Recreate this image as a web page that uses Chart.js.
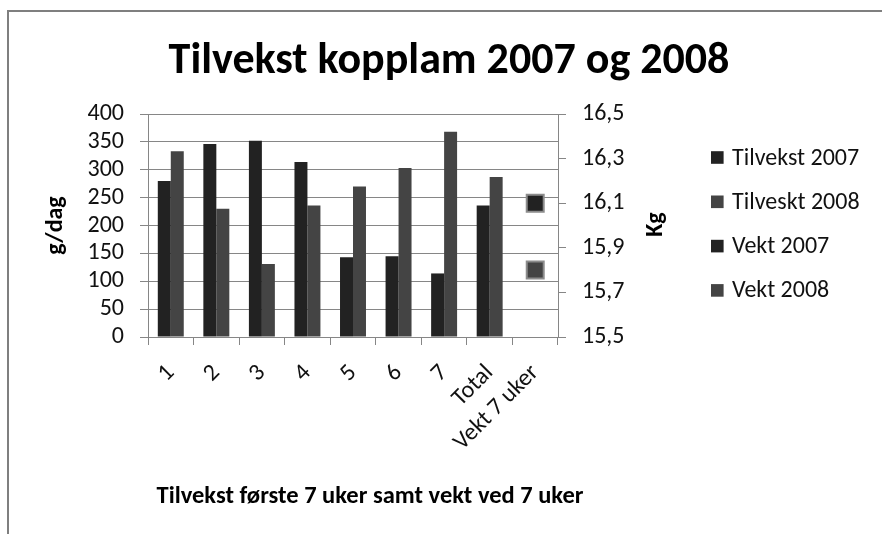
<!DOCTYPE html>
<html><head><meta charset="utf-8">
<script src="https://cdn.jsdelivr.net/npm/chart.js@4.4.1/dist/chart.umd.min.js"></script>
<style>
html,body{margin:0;padding:0;background:#fff;}
#wrap{position:relative;width:882px;height:534px;overflow:hidden;background:#fff;}
#frame{position:absolute;left:7px;top:10px;width:900px;height:600px;border:2.5px solid #7f7f7f;box-sizing:border-box;}
canvas{position:absolute;left:0;top:0;}
</style></head><body>
<div id="wrap"><div id="frame"></div><canvas id="c" width="882" height="534"></canvas></div>
<script>
// ---- data ----
const categories = ['1', '2', '3', '4', '5', '6', '7', 'Total', 'Vekt 7 uker'];
const tilvekst2007 = [280, 346, 352, 314, 143, 145, 114, 236, null];
const tilvekst2008 = [333, 230, 131, 236, 270, 303, 368, 287, null];
const vekt2007 = [null, null, null, null, null, null, null, null, 16.1];
const vekt2008 = [null, null, null, null, null, null, null, null, 15.8];
const seriesNames = ['Tilvekst 2007', 'Tilveskt 2008', 'Vekt 2007', 'Vekt 2008'];
const seriesColors = ['#222222', '#444444', '#222222', '#444444'];
const leftAxisRange = [0, 400, 50];
const rightAxisRange = [15.5, 16.5, 0.2];
const chartTitle = 'Tilvekst kopplam 2007 og 2008';
const xAxisTitle = 'Tilvekst første 7 uker samt vekt ved 7 uker';
const leftAxisTitle = 'g/dag';
const rightAxisTitle = 'Kg';

const FONT = 'Carlito, Lato, sans-serif';
Chart.defaults.font.family = FONT;
Chart.defaults.color = '#111';
const GRID = '#868686';

const extras = {
  id: 'extras',
  afterDraw(chart) {
    const ctx = chart.ctx, a = chart.chartArea;
    ctx.save();
    ctx.fillStyle = '#000';
    ctx.font = 'bold 24px ' + FONT;
    ctx.textAlign = 'center';
    ctx.textBaseline = 'middle';
    ctx.save();
    ctx.translate(a.left - 92, (a.top + a.bottom) / 2);
    ctx.rotate(-Math.PI / 2);
    ctx.fillText(leftAxisTitle, 0, 0);
    ctx.restore();
    ctx.save();
    ctx.translate(a.right + 98, (a.top + a.bottom) / 2 - 1);
    ctx.rotate(-Math.PI / 2);
    ctx.fillText(rightAxisTitle, 0, 0);
    ctx.restore();
    ctx.font = 'bold 24.5px ' + FONT;
    ctx.fillText(xAxisTitle, (a.left + a.right) / 2 + 17, a.bottom + 160);
    // legend
    ctx.font = '24px ' + FONT;
    ctx.textAlign = 'left';
    const bx = a.right + 153, tx = a.right + 174;
    chart.data.datasets.forEach((ds, i) => {
      const cy = a.top + 43.5 + i * 44.3;
      ctx.fillStyle = ds.backgroundColor;
      ctx.fillRect(bx, cy - 6.3, 12.6, 12.6);
      ctx.fillStyle = '#111';
      ctx.fillText(ds.label, tx, cy + 1);
    });
    ctx.restore();
  }
};

new Chart(document.getElementById('c'), {
  type: 'bar',
  data: {
    labels: categories,
    datasets: [
      { label: seriesNames[0], data: tilvekst2007, backgroundColor: seriesColors[0], borderWidth: 0, yAxisID: 'y', categoryPercentage: 0.57, barPercentage: 1.0 },
      { label: seriesNames[1], data: tilvekst2008, backgroundColor: seriesColors[1], borderWidth: 0, yAxisID: 'y', categoryPercentage: 0.57, barPercentage: 1.0 },
      { type: 'line', label: seriesNames[2], data: vekt2007, yAxisID: 'y2', showLine: false, pointStyle: 'rect', pointRadius: 12, pointHoverRadius: 12,
        backgroundColor: seriesColors[2], borderColor: seriesColors[2], pointBackgroundColor: seriesColors[2], pointBorderColor: '#8c8c8c', pointBorderWidth: 2, borderWidth: 0 },
      { type: 'line', label: seriesNames[3], data: vekt2008, yAxisID: 'y2', showLine: false, pointStyle: 'rect', pointRadius: 12, pointHoverRadius: 12,
        backgroundColor: seriesColors[3], borderColor: seriesColors[3], pointBackgroundColor: seriesColors[3], pointBorderColor: '#8c8c8c', pointBorderWidth: 2, borderWidth: 0 }
    ]
  },
  options: {
    responsive: false,
    animation: false,
    events: [],
    layout: { padding: { left: 20, right: 4, top: 0, bottom: 0 } },
    plugins: {
      title: { display: true, text: chartTitle, color: '#000', font: { size: 44, weight: 'bold', family: FONT }, padding: { top: 35.6, bottom: 25.6 } },
      legend: { display: false },
      tooltip: { enabled: false }
    },
    scales: {
      x: {
        offset: true,
        grid: { display: true, offset: true, drawOnChartArea: false, drawTicks: true, tickLength: 8, color: GRID },
        border: { display: true, color: GRID, width: 1 },
        ticks: { autoSkip: false, maxRotation: 45, minRotation: 45, padding: 14, color: '#111', font: { size: 24 } },
        afterFit(s) { s.height = 197; }
      },
      y: {
        position: 'left', min: leftAxisRange[0], max: leftAxisRange[1],
        ticks: { autoSkip: false, stepSize: leftAxisRange[2], padding: 16, color: '#111', font: { size: 24 } },
        grid: { color: GRID, tickLength: 8, drawTicks: true },
        border: { display: true, color: GRID, width: 1 },
        afterFit(s) { s.width = 128; }
      },
      y2: {
        position: 'right', min: rightAxisRange[0], max: rightAxisRange[1],
        ticks: { autoSkip: false, stepSize: rightAxisRange[2], padding: 16, color: '#111', font: { size: 24 },
          callback: (v) => Number(v).toFixed(1).replace('.', ',') },
        grid: { drawOnChartArea: false, color: GRID, tickLength: 8, drawTicks: true },
        border: { display: true, color: GRID, width: 1 },
        afterFit(s) { s.width = 320; }
      }
    }
  },
  plugins: [extras]
});
</script>
</body></html>
